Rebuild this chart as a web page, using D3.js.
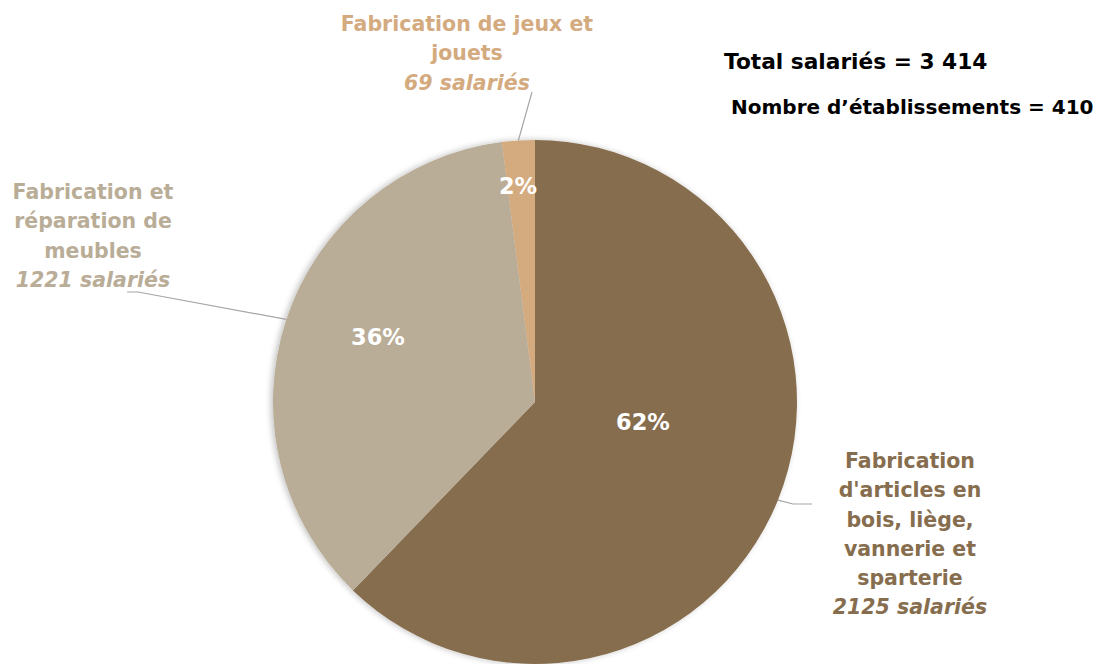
<!DOCTYPE html>
<html>
<head>
<meta charset="utf-8">
<script src="https://cdn.jsdelivr.net/npm/d3@7"></script>
<style>
  body { margin: 0; background: #fff; }
  svg { display: block; font-family: "Century Gothic", "DejaVu Sans", sans-serif; }
</style>
</head>
<body>
<script>
var w = 1097;
var h = 664;

// data
var categories = [
    "Fabrication d'articles en bois, liège, vannerie et sparterie",
    "Fabrication et réparation de meubles",
    "Fabrication de jeux et jouets"
];
var salaries = [2125, 1221, 69];
var labelLines = [
    ["Fabrication", "d'articles en", "bois, liège,", "vannerie et", "sparterie"],
    ["Fabrication et", "réparation de", "meubles"],
    ["Fabrication de jeux et", "jouets"]
];
var totalText = "Total salariés = 3 414";
var etabText = "Nombre d\u2019établissements = 410";

var colors = ["#866d4e", "#b9ad97", "#d4aa7f"];

// layout
var cx = 535, cy = 402, radius = 262;
var labelPos = [ [910, 461], [93, 192], [467, 24] ];     // first line centre (text)
var lineEnds = [ [[793, 504], [812, 504]], [[138, 292], [127, 292]], [[532, 92]] ];
var pctPos = [ [643, 422], [378, 337], [518, 186] ];
var lineH = 29.2;

var data = categories.map(function(c, i) {
    return { name: c, value: salaries[i], i: i };
});
var total = d3.sum(salaries);

var svg = d3.select("body")
    .append("svg")
    .attr("width", w)
    .attr("height", h);

var defs = svg.append("defs");
var f = defs.append("filter").attr("id", "shadow")
    .attr("x", "-10%").attr("y", "-10%").attr("width", "120%").attr("height", "120%");
f.append("feGaussianBlur").attr("in", "SourceAlpha").attr("stdDeviation", 3);
f.append("feOffset").attr("dx", -2).attr("dy", 0).attr("result", "b");
f.append("feComponentTransfer").append("feFuncA").attr("type", "linear").attr("slope", 0.25);
var m = f.append("feMerge");
m.append("feMergeNode");
m.append("feMergeNode").attr("in", "SourceGraphic");

var pie = d3.pie()
    .sort(null)
    .value(function(d) { return d.value; });

var arc = d3.arc()
    .innerRadius(0)
    .outerRadius(radius);

var arcs = pie(data);

var g = svg.append("g")
    .attr("transform", "translate(" + cx + "," + cy + ")");

g.append("g").attr("filter", "url(#shadow)")
    .selectAll("path")
    .data(arcs)
    .enter()
    .append("path")
    .attr("d", arc)
    .attr("fill", function(d) { return colors[d.data.i]; });

// leader lines
svg.selectAll("polyline.leader")
    .data(arcs)
    .enter()
    .append("polyline")
    .attr("class", "leader")
    .attr("points", function(d) {
        var a = (d.startAngle + d.endAngle) / 2;
        var p = [[cx + radius * Math.sin(a), cy - radius * Math.cos(a)]];
        return p.concat(lineEnds[d.data.i]).map(function(q) { return q.join(","); }).join(" ");
    })
    .attr("fill", "none")
    .attr("stroke", "#a6a6a6")
    .attr("stroke-width", 1.2);

// percentages
svg.selectAll("text.pct")
    .data(arcs)
    .enter()
    .append("text")
    .attr("class", "pct")
    .attr("x", function(d) { return pctPos[d.data.i][0]; })
    .attr("y", function(d) { return pctPos[d.data.i][1]; })
    .attr("text-anchor", "middle")
    .attr("dominant-baseline", "central")
    .attr("fill", "#fff")
    .style("font-size", "22.5px")
    .style("font-weight", "bold")
    .text(function(d) { return Math.round(d.value / total * 100) + "%"; });

// category labels
data.forEach(function(d) {
    var t = svg.append("text")
        .attr("text-anchor", "middle")
        .attr("fill", colors[d.i])
        .style("font-size", "20.5px")
        .style("font-weight", "bold");
    var lines = labelLines[d.i];
    lines.forEach(function(l, k) {
        t.append("tspan")
            .attr("x", labelPos[d.i][0])
            .attr("y", labelPos[d.i][1] + k * lineH)
            .attr("dy", "0.35em")
            .text(l);
    });
    t.append("tspan")
        .attr("x", labelPos[d.i][0])
        .attr("y", labelPos[d.i][1] + lines.length * lineH)
        .attr("dy", "0.35em")
        .style("font-style", "italic")
        .text(d.value + " salariés");
});

// totals
svg.append("text")
    .attr("x", 724)
    .attr("y", 61)
    .attr("dominant-baseline", "central")
    .style("font-size", "21.7px")
    .style("font-weight", "bold")
    .attr("fill", "#000")
    .text(totalText);

svg.append("text")
    .attr("x", 731)
    .attr("y", 107)
    .attr("dominant-baseline", "central")
    .style("font-size", "20px")
    .style("font-weight", "bold")
    .attr("fill", "#000")
    .text(etabText);
</script>
</body>
</html>
